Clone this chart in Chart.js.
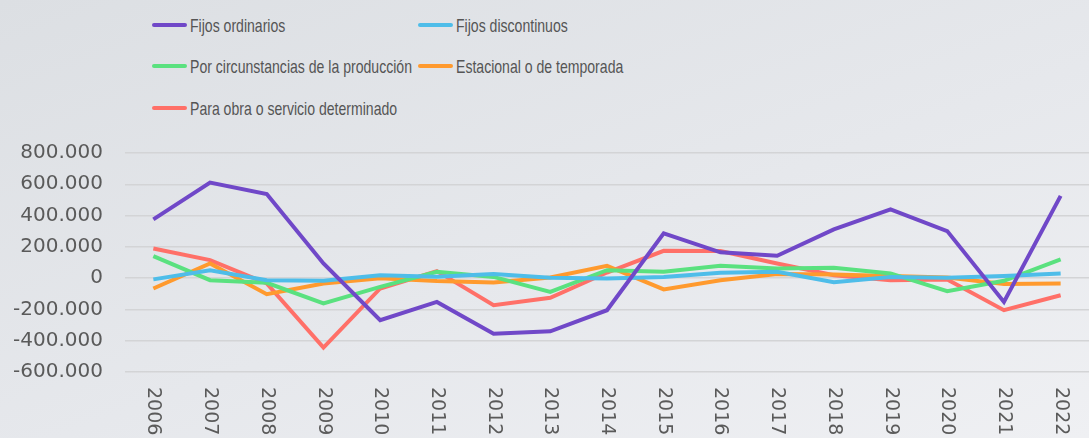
<!DOCTYPE html>
<html lang="es">
<head>
    <meta charset="UTF-8">
    <title>Contratos por tipo</title>
    <style>
        body {
            margin: 0;
            padding: 0;
            width: 1089px;
            height: 438px;
            overflow: hidden;
            background: linear-gradient(160deg, #dcdfe3 0%, #e6e8ec 55%, #eff0f3 100%);
        }

        .wrap {
            position: relative;
            width: 1089px;
            height: 438px;
        }

        /* Legend in two fixed columns */
        .legend {
            position: absolute;
            left: 152px;
            top: 4px;
            display: grid;
            grid-template-columns: 266px 300px;
            font-family: "Liberation Sans", Arial, sans-serif;
            font-size: 18.5px;
            color: #555;
        }

        .legend .item {
            display: flex;
            align-items: center;
            height: 41.5px;
            white-space: nowrap;
        }

        .legend .swatch {
            flex: 0 0 35px;
            width: 35px;
            height: 4px;
            border-radius: 2px;
            margin-right: 3px;
        }

        /* the original face is a condensed one, squeeze the text */
        .legend .text {
            display: inline-block;
            transform: scaleX(0.76);
            transform-origin: left center;
            padding-top: 2px;
        }

        canvas {
            position: absolute;
            left: 0;
            top: 0;
        }
    </style>
</head>
<body>
    <div class="wrap">
        <div class="legend" id="legend"></div>
        <canvas id="chart" width="1089" height="438"></canvas>
    </div>

    <script src="https://cdn.jsdelivr.net/npm/chart.js"></script>
    <script>
        // Years on the x axis
        const years = ['2006', '2007', '2008', '2009', '2010', '2011', '2012', '2013', '2014',
            '2015', '2016', '2017', '2018', '2019', '2020', '2021', '2022'];

        const seriesNames = [
            'Fijos ordinarios',
            'Fijos discontinuos',
            'Por circunstancias de la producción',
            'Estacional o de temporada',
            'Para obra o servicio determinado'
        ];

        // Values
        const fijosOrdinarios = [376000, 611000, 538000, 94000, -269000, -152000, -355000, -340000, -205000,
            287000, 165000, 143000, 312000, 440000, 301000, -152000, 526000];
        const fijosDiscontinuos = [-8000, 51000, -13000, -17000, 19000, 9000, 26000, 2000, -2000,
            8000, 34000, 41000, -26000, 8000, 2000, 13000, 30000];
        const circunstancias = [141000, -13000, -30000, -162000, -56000, 41000, 8000, -88000, 51000,
            41000, 79000, 62000, 66000, 30000, -83000, -17000, 120000];
        const estacional = [-66000, 94000, -103000, -34000, 0, -19000, -28000, 4000, 79000,
            -72000, -13000, 26000, 24000, 13000, 4000, -38000, -34000];
        const obraServicio = [190000, 115000, -34000, -444000, -66000, 45000, -173000, -126000, 36000,
            175000, 173000, 94000, 19000, -13000, -8000, -205000, -109000];

        const yTicks = [-600000, -400000, -200000, 0, 200000, 400000, 600000, 800000];

        const colors = ['#7048c8', '#4ebde9', '#5ae17f', '#ff9a2e', '#ff7068'];
        const seriesData = [fijosOrdinarios, fijosDiscontinuos, circunstancias, estacional, obraServicio];

        // HTML legend
        const legendEl = document.getElementById('legend');
        seriesNames.forEach(function (name, i) {
            const item = document.createElement('div');
            item.className = 'item';
            item.innerHTML = '<span class="swatch" style="background:' + colors[i] + '"></span>' +
                '<span class="text">' + name + '</span>';
            legendEl.appendChild(item);
        });

        function formatEs(v) {
            return v.toLocaleString('de-DE');
        }

        // Draw the year labels turned clockwise (reading top to bottom)
        const verticalLabels = {
            id: 'verticalLabels',
            afterDraw(chart) {
                const ctx = chart.ctx;
                const xScale = chart.scales.x;
                ctx.save();
                ctx.font = '19px "DejaVu Sans"';
                ctx.fillStyle = '#5a5a5a';
                ctx.textAlign = 'left';
                ctx.textBaseline = 'middle';
                years.forEach(function (label, i) {
                    const x = xScale.getPixelForTick(i);
                    const y = chart.chartArea.bottom + 15;
                    ctx.save();
                    ctx.translate(x, y);
                    ctx.rotate(Math.PI / 2);
                    ctx.fillText(label, 0, 0);
                    ctx.restore();
                });
                ctx.restore();
            }
        };

        new Chart(document.getElementById('chart'), {
            type: 'line',
            data: {
                labels: years,
                datasets: seriesNames.map(function (name, i) {
                    return {
                        label: name,
                        data: seriesData[i],
                        borderColor: colors[i],
                        backgroundColor: colors[i],
                        borderWidth: 4,
                        pointRadius: 0,
                        tension: 0,
                        fill: false
                    };
                })
            },
            options: {
                responsive: false,
                animation: false,
                layout: { padding: { top: 153, left: 10, right: 0, bottom: 0 } },
                plugins: {
                    legend: { display: false },
                    tooltip: { enabled: false }
                },
                scales: {
                    x: {
                        offset: true,
                        grid: { display: false },
                        border: { display: false },
                        ticks: {
                            color: 'transparent',
                            font: { family: 'DejaVu Sans', size: 19 },
                            minRotation: 90,
                            maxRotation: 90,
                            autoSkip: false
                        },
                        afterFit: function (scale) { scale.height = 66; }
                    },
                    y: {
                        min: yTicks[0],
                        max: yTicks[yTicks.length - 1],
                        afterBuildTicks: function (scale) {
                            scale.ticks = yTicks.map(function (v) { return { value: v }; });
                        },
                        grid: { color: '#d3d4d6', lineWidth: 1.5, drawTicks: false },
                        border: { display: false },
                        ticks: {
                            color: '#5a5a5a',
                            padding: 22,
                            font: { family: 'DejaVu Sans', size: 20 },
                            callback: function (v) { return formatEs(v); }
                        },
                        afterFit: function (scale) { scale.width = 115; }
                    }
                }
            },
            plugins: [verticalLabels]
        });
    </script>
</body>
</html>
